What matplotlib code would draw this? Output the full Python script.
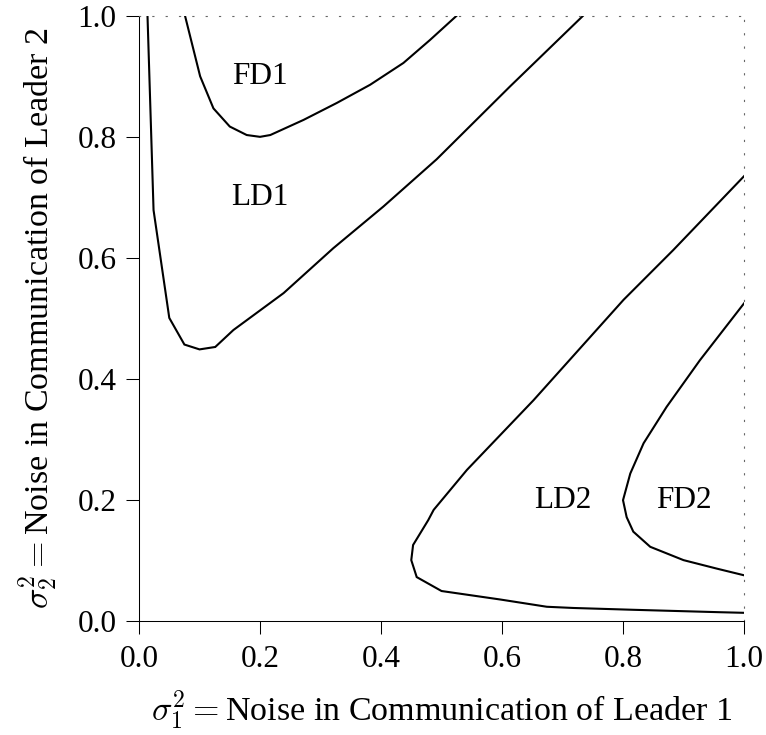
import matplotlib
matplotlib.use("Agg")
import matplotlib.pyplot as plt

plt.rcParams['font.family'] = ['Liberation Serif', 'DejaVu Serif']
plt.rcParams['mathtext.fontset'] = 'cm'

# Boundary curves (sigma1^2, sigma2^2)
ld1_x = [0.014, 0.024, 0.050, 0.075, 0.100, 0.126, 0.156, 0.239, 0.321, 0.404, 0.492, 0.613, 0.734]
ld1_y = [1.000, 0.679, 0.501, 0.457, 0.449, 0.453, 0.481, 0.542, 0.616, 0.685, 0.763, 0.883, 1.000]

fd1_x = [0.076, 0.101, 0.123, 0.150, 0.178, 0.200, 0.217, 0.272, 0.327, 0.382, 0.437, 0.481, 0.525]
fd1_y = [1.000, 0.900, 0.847, 0.817, 0.803, 0.800, 0.803, 0.828, 0.856, 0.886, 0.922, 0.960, 1.000]

ld2_x = [1.000, 0.883, 0.801, 0.652, 0.542, 0.487, 0.478, 0.453, 0.450, 0.459, 0.500, 0.597, 0.674, 0.718, 0.817, 0.960, 1.000]
ld2_y = [0.735, 0.613, 0.531, 0.365, 0.250, 0.184, 0.167, 0.126, 0.101, 0.073, 0.050, 0.036, 0.024, 0.022, 0.019, 0.015, 0.014]

fd2_x = [1.000, 0.927, 0.872, 0.834, 0.812, 0.800, 0.806, 0.817, 0.845, 0.900, 0.955, 1.000]
fd2_y = [0.525, 0.431, 0.354, 0.294, 0.244, 0.200, 0.172, 0.148, 0.123, 0.101, 0.087, 0.076]

region_labels = ["FD1", "LD1", "LD2", "FD2"]
region_x = [0.20, 0.20, 0.70, 0.90]
region_y = [0.90, 0.70, 0.20, 0.20]

ticks = [0.0, 0.2, 0.4, 0.6, 0.8, 1.0]
tick_labels = ["0.0", "0.2", "0.4", "0.6", "0.8", "1.0"]

fig = plt.figure(figsize=(7.66, 7.35), dpi=100)
ax = fig.add_axes([0.1815, 0.1547, 0.9713 - 0.1815, 0.9786 - 0.1547])

for xs, ys in [(ld1_x, ld1_y), (fd1_x, fd1_y), (ld2_x, ld2_y), (fd2_x, fd2_y)]:
    ax.plot(xs, ys, color='black', lw=1.5, solid_joinstyle='miter')

for t, x, y in zip(region_labels, region_x, region_y):
    ax.text(x, y, t, ha='center', va='center', fontsize=22.5)

ax.set_xlim(0, 1)
ax.set_ylim(0, 1)
ax.set_xticks(ticks)
ax.set_xticklabels(tick_labels)
ax.set_yticks(ticks)
ax.set_yticklabels(tick_labels)
ax.tick_params(direction='out', length=9.4, width=0.75, labelsize=22.5, pad=7)
ax.tick_params(axis='x', pad=8)

for s in ['left', 'bottom']:
    ax.spines[s].set_linewidth(0.75)
for s in ['top', 'right']:
    ax.spines[s].set_linestyle((0, (1, 11)))
    ax.spines[s].set_linewidth(0.8)
    ax.spines[s].set_color('#666666')

ax.set_xlabel(r"$\sigma_1^2 = $Noise in Communication of Leader 1", fontsize=24.5, labelpad=10)
ax.set_ylabel(r"$\sigma_2^2 = $Noise in Communication of Leader 2", fontsize=24.5, labelpad=12)

fig.savefig("out.png", dpi=100)
